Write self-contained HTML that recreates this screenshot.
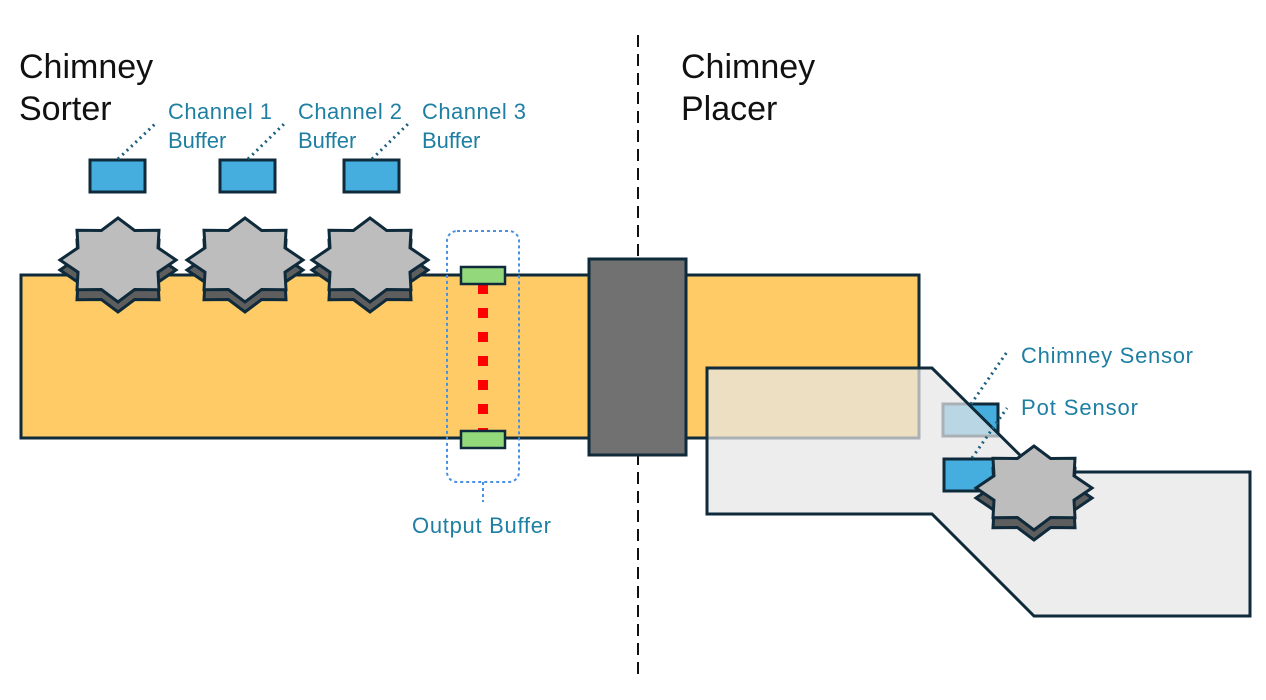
<!DOCTYPE html>
<html><head><meta charset="utf-8"><style>
html,body{margin:0;padding:0;background:#fff;width:1266px;height:700px;overflow:hidden}
svg text{font-family:"Liberation Sans",sans-serif}
</style></head><body>
<svg width="1266" height="700" viewBox="0 0 1266 700" xmlns="http://www.w3.org/2000/svg">
<defs>
<polygon id="st" points="58,0 40,12.2 41,29.7 16.6,29.5 0,42 -16.6,29.5 -41,29.7 -40,12.2 -58,0 -40,-12.2 -41,-29.7 -16.6,-29.5 0,-42 16.6,-29.5 41,-29.7 40,-12.2" stroke="#0f2a3a" stroke-width="3" stroke-linejoin="miter"/>
</defs>
<line x1="638" y1="35" x2="638" y2="675" stroke="#111" stroke-width="2" stroke-dasharray="12,7"/>
<rect x="21" y="275" width="898" height="163" fill="#fecb66" stroke="#0f2a3a" stroke-width="3"/>
<rect x="589" y="259" width="97" height="196" fill="#717171" stroke="#0f2a3a" stroke-width="3"/>
<g fill="#5e5e5e"><use href="#st" x="118" y="270"/><use href="#st" x="245" y="270"/><use href="#st" x="370" y="270"/></g>
<g fill="#bdbdbd"><use href="#st" x="118" y="260"/><use href="#st" x="245" y="260"/><use href="#st" x="370" y="260"/></g>
<g fill="#45aede" stroke="#0f2a3a" stroke-width="3">
<rect x="90" y="160" width="55" height="32"/><rect x="220" y="160" width="55" height="32"/><rect x="344" y="160" width="55" height="32"/>
<rect x="943" y="404" width="55" height="32"/>
</g>
<g stroke="#1c5f7e" stroke-width="3" stroke-dasharray="2,4">
<line x1="118" y1="159" x2="155" y2="124"/><line x1="248" y1="159" x2="284" y2="124"/><line x1="372" y1="159" x2="408" y2="124"/>
<line x1="971" y1="404" x2="1007" y2="352"/>
</g>
<rect x="447" y="231" width="72" height="251" rx="10" fill="none" stroke="#4a90e2" stroke-width="2" stroke-dasharray="3,3"/>
<line x1="483" y1="482" x2="483" y2="502" stroke="#4a90e2" stroke-width="2" stroke-dasharray="3,3"/>
<line x1="483" y1="284" x2="483" y2="431" stroke="#ff0000" stroke-width="10" stroke-dasharray="10,14"/>
<g fill="#93d97c" stroke="#0f2a3a" stroke-width="2.5"><rect x="461" y="267" width="44" height="17"/><rect x="461" y="431" width="44" height="17"/></g>
<polygon points="707,368 932,368 1037,472 1250,472 1250,616 1034,616 932,514 707,514" fill="#e6e6e6" fill-opacity="0.72" stroke="#0f2a3a" stroke-width="3"/>
<rect x="944" y="459" width="56" height="32" fill="#45aede" stroke="#0f2a3a" stroke-width="3"/>
<line x1="972" y1="458" x2="1007" y2="408" stroke="#1c5f7e" stroke-width="3" stroke-dasharray="2,4"/>
<use href="#st" x="1034" y="498" fill="#5e5e5e"/>
<use href="#st" x="1034" y="488" fill="#bdbdbd"/>
<g font-size="34" fill="#111"><text x="19" y="78">Chimney</text><text x="19" y="120">Sorter</text><text x="681" y="78">Chimney</text><text x="681" y="120">Placer</text></g>
<g font-size="22" fill="#1e7fa3">
<text x="168" y="119" textLength="104">Channel 1</text><text x="168" y="148">Buffer</text>
<text x="298" y="119" textLength="104">Channel 2</text><text x="298" y="148">Buffer</text>
<text x="422" y="119" textLength="104">Channel 3</text><text x="422" y="148">Buffer</text>
<text x="412" y="533" textLength="139">Output Buffer</text>
<text x="1021" y="363" textLength="172">Chimney Sensor</text>
<text x="1021" y="415" textLength="117">Pot Sensor</text>
</g>
</svg>
</body></html>
